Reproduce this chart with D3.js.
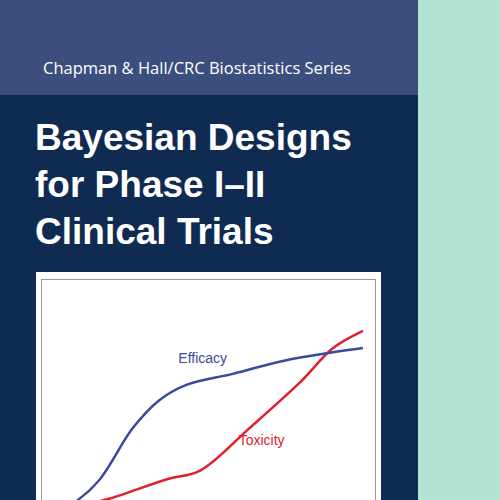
<!DOCTYPE html>
<html><head><meta charset="utf-8">
<script src="https://cdn.jsdelivr.net/npm/d3@7"></script>
<style>body{margin:0}svg{display:block}</style>
</head><body>
<svg id="c" width="500" height="500"></svg>
<script>
const effDose = [0.6, 1.07, 1.76, 2.75, 3.55, 4.36, 5.73, 7.22, 8.72, 9.61];
const effProb = [-0.02, 0.02, 0.12, 0.36, 0.49, 0.56, 0.61, 0.67, 0.71, 0.73];
const toxDose = [1.2, 2.06, 3.76, 4.75, 6.24, 7.73, 8.72, 9.61];
const toxProb = [0.0, 0.03, 0.12, 0.16, 0.36, 0.57, 0.73, 0.81];
const titleLines = ["Bayesian Designs", "for Phase I\u2013II", "Clinical Trials"];

const svg = d3.select("#c");
svg.append("rect").attr("width", 500).attr("height", 500).attr("fill", "#b3e3d5");
svg.append("rect").attr("width", 418).attr("height", 500).attr("fill", "#0f2b52");
svg.append("rect").attr("width", 418).attr("height", 95).attr("fill", "#3c4e7e");
svg.append("text").attr("x", 43).attr("y", 74).attr("fill", "#fff")
  .attr("font-family", "Open Sans, sans-serif").attr("font-size", 16.5)
  .text("Chapman & Hall/CRC Biostatistics Series");
svg.selectAll(".t").data(titleLines).join("text")
  .attr("x", 35).attr("y", (d, i) => 150 + i * 47)
  .attr("fill", "#fff").attr("font-family", "Liberation Sans, Arial, sans-serif")
  .attr("font-weight", "bold").attr("font-size", 37).text(d => d);

svg.append("rect").attr("x", 36).attr("y", 272).attr("width", 345).attr("height", 240).attr("fill", "#fff");
svg.append("rect").attr("x", 41.5).attr("y", 279.5).attr("width", 334).attr("height", 240)
  .attr("fill", "none").attr("stroke", "#999").attr("stroke-width", 1);

const x = d3.scaleLinear().domain([0, 10]).range([41, 376]);
const y = d3.scaleLinear().domain([0, 1]).range([505, 290]);
const line = d3.line().x(d => x(d[0])).y(d => y(d[1])).curve(d3.curveCatmullRom);
const g = svg.append("g");
g.append("path").datum(d3.zip(toxDose, toxProb)).attr("d", line)
  .attr("fill", "none").attr("stroke", "#e0202e").attr("stroke-width", 2.5);
g.append("path").datum(d3.zip(effDose, effProb)).attr("d", line)
  .attr("fill", "none").attr("stroke", "#3b4a9a").attr("stroke-width", 2.5);
g.append("text").attr("x", x(4.1)).attr("y", y(0.66)).attr("fill", "#3b4a9a")
  .attr("font-family", "Liberation Sans, Arial, sans-serif").attr("font-size", 14).text("Efficacy");
g.append("text").attr("x", x(5.9)).attr("y", y(0.28)).attr("fill", "#e0202e")
  .attr("font-family", "Liberation Sans, Arial, sans-serif").attr("font-size", 14).text("Toxicity");
</script>
</body></html>
